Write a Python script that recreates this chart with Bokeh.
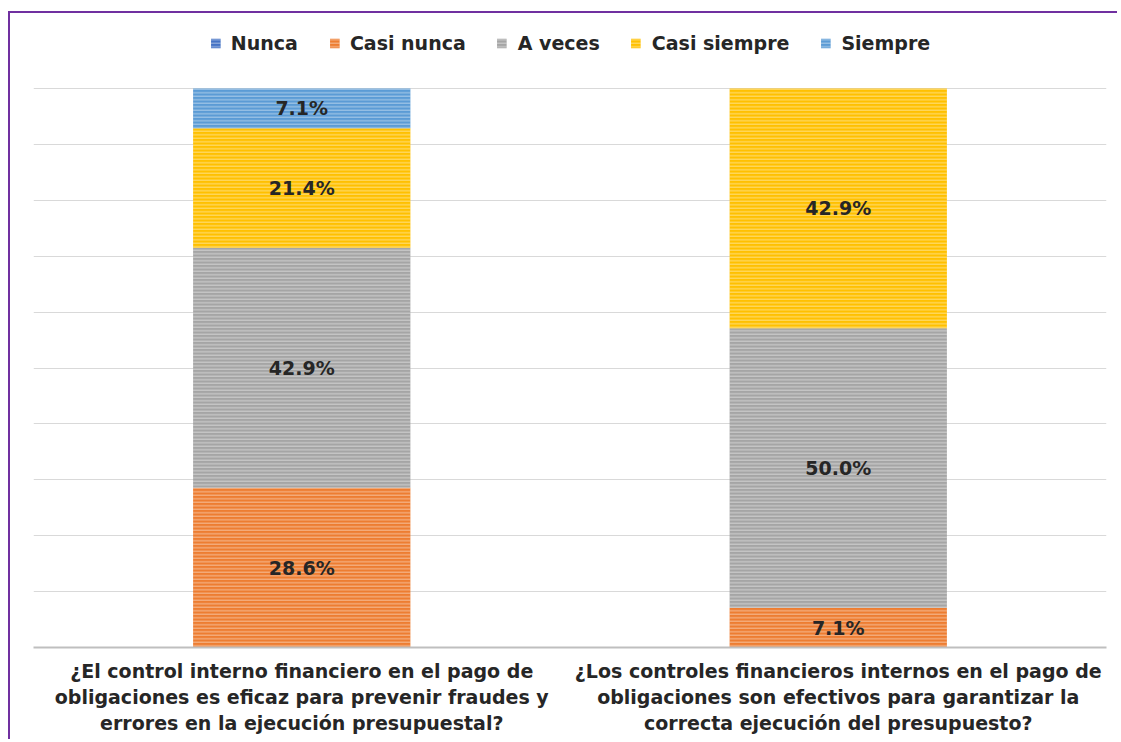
import numpy as np
from bokeh.plotting import figure
from bokeh.models import (ColumnDataSource, FactorRange, Range1d, Legend, LegendItem,
                          FixedTicker)
from bokeh.core.properties import value
from bokeh.embed import file_html
from bokeh.resources import INLINE

# ---- data ----
categories = [
    "¿El control interno financiero en el pago de\nobligaciones es eficaz para prevenir fraudes y\nerrores en la ejecución presupuestal?",
    "¿Los controles financieros internos en el pago de\nobligaciones son efectivos para garantizar la\ncorrecta ejecución del presupuesto?",
]
series = ["Nunca", "Casi nunca", "A veces", "Casi siempre", "Siempre"]
nunca = [0.0, 0.0]
casi_nunca = [28.6, 7.1]
a_veces = [42.9, 50.0]
casi_siempre = [21.4, 42.9]
siempre = [7.1, 0.0]
colors = ["#4472C4", "#ED7D31", "#A5A5A5", "#FFC000", "#5B9BD5"]
grid_ticks = [0, 10, 20, 30, 40, 50, 60, 70, 80, 90, 100]

values = [nunca, casi_nunca, a_veces, casi_siempre, siempre]
data = {"cat": categories}
for s, v in zip(series, values):
    data[s] = v
source = ColumnDataSource(data)

FONT = "DejaVu Sans"

W, H = 1109, 728
MB_TOP, MB_BOT, MB_L, MB_R = 15, 94, 23, 13
frame_h = H - MB_TOP - MB_BOT
px_per_unit = 5.59  # 100 % spans 559 px
y_end = frame_h / px_per_unit

p = figure(x_range=FactorRange(*categories, range_padding=0),
           y_range=Range1d(0, y_end),
           width=W, height=H, output_backend="svg", toolbar_location=None,
           min_border_left=MB_L, min_border_right=MB_R,
           min_border_top=MB_TOP, min_border_bottom=MB_BOT)
p.styles = {"margin-left": "8px", "margin-top": "11px",
            "border-top": "2px solid #7030A0", "border-left": "2px solid #7030A0"}

renderers = p.vbar_stack(series, x="cat", width=0.405, color=colors, source=source,
                         line_color=None, hatch_pattern="horizontal_line",
                         hatch_color="white", hatch_alpha=0.5, hatch_scale=3.5,
                         hatch_weight=1)

# data labels
tx, ty, tt = [], [], []
arr = np.array(values)
cum = np.cumsum(arr, axis=0)
for j, c in enumerate(categories):
    for i in range(len(series)):
        v = arr[i, j]
        if v > 0:
            tx.append(c)
            ty.append(cum[i, j] - v / 2)
            tt.append(f"{v:.1f}%")
p.text(x=tx, y=ty, text=tt, text_align="center", text_baseline="middle",
       text_font=value(FONT), text_font_style="bold", text_font_size="19px",
       text_color="#262626")

legend = Legend(items=[LegendItem(label=s, renderers=[r]) for s, r in zip(series, renderers)],
                orientation="horizontal", location="top_center",
                label_text_font=FONT, label_text_font_style="bold",
                label_text_font_size="19px", label_text_color="#262626",
                glyph_width=12, glyph_height=12, spacing=30, label_standoff=10,
                border_line_color=None, background_fill_alpha=0, margin=4, padding=0)
p.add_layout(legend, "center")

p.yaxis.visible = False
tick = FixedTicker(ticks=grid_ticks)
p.yaxis.ticker = tick
p.ygrid.ticker = tick
p.ygrid.grid_line_color = "#D9D9D9"
p.xgrid.grid_line_color = None
p.outline_line_color = None

p.xaxis.axis_line_color = "#BFBFBF"
p.xaxis.axis_line_width = 2
p.xaxis.major_tick_line_color = None
p.xaxis.minor_tick_line_color = None
p.xaxis.major_label_text_font = FONT
p.xaxis.major_label_text_font_style = "bold"
p.xaxis.major_label_text_font_size = "19px"
p.xaxis.major_label_text_color = "#262626"
p.xaxis.major_label_text_line_height = 1.2
p.xaxis.major_label_standoff = 6

open("out.html", "w").write(file_html(p, INLINE))
